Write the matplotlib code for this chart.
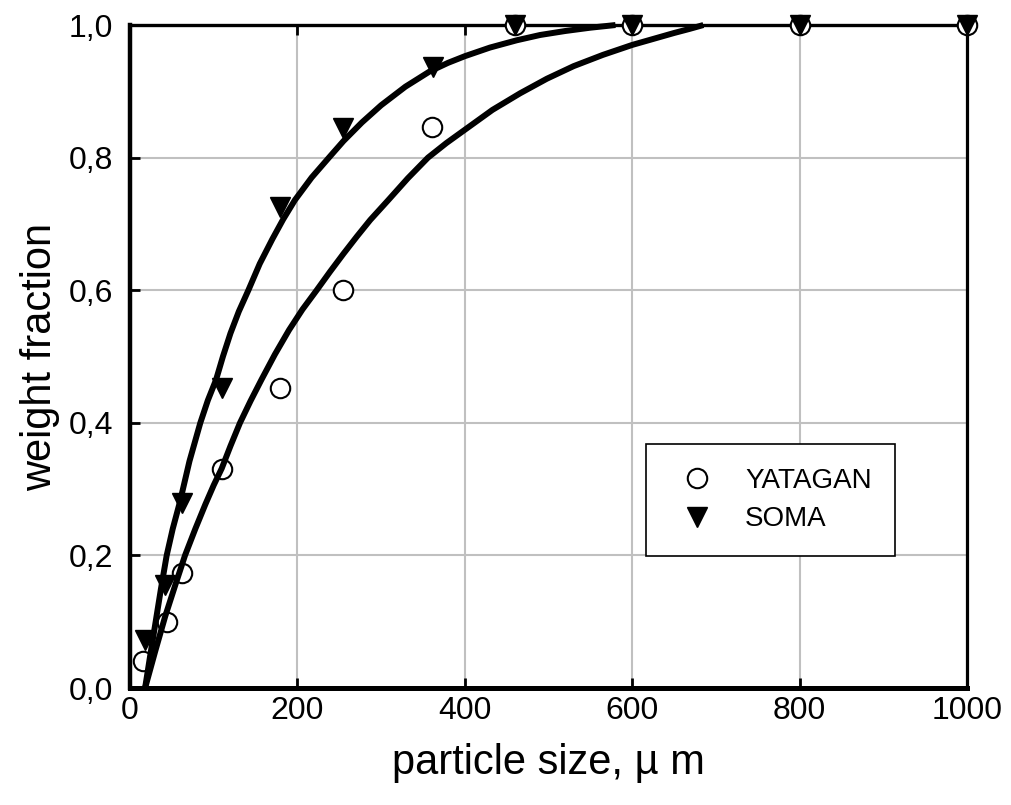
import matplotlib
matplotlib.use("Agg")
import matplotlib.pyplot as plt
from matplotlib.ticker import FuncFormatter

plt.rcParams['font.family'] = ['Liberation Sans', 'DejaVu Sans']

# measured data
yat_x = [16, 44, 62, 110, 179, 255, 361, 460, 600, 800, 1000]
yat_y = [0.041, 0.099, 0.173, 0.331, 0.452, 0.600, 0.846, 1.0, 1.0, 1.0, 1.0]
soma_x = [18, 42, 62, 110, 179, 255, 362, 460, 600, 800, 1000]
soma_y = [0.072, 0.155, 0.279, 0.453, 0.726, 0.844, 0.937, 1.0, 1.0, 1.0, 1.0]

# fitted curves
yat_fit_x = [18, 30, 42, 54, 65.7, 78, 90, 100, 109.5, 120, 131.4, 144, 157, 173, 190, 206, 223, 239,
             255, 271, 287, 308.6, 332, 356, 378, 400, 433, 466, 498, 530, 565, 600, 625, 650, 668, 685]
yat_fit_y = [0.0, 0.055, 0.108, 0.155, 0.2, 0.24, 0.277, 0.306, 0.331, 0.365, 0.4, 0.433, 0.465, 0.503,
             0.54, 0.571, 0.6, 0.628, 0.655, 0.681, 0.706, 0.736, 0.769, 0.8, 0.822, 0.842, 0.872, 0.897,
             0.919, 0.938, 0.955, 0.970, 0.979, 0.988, 0.994, 1.0]
soma_fit_x = [18, 24, 30, 37, 43.8, 51, 59.7, 71, 84, 93, 102.8, 111, 120, 130, 141.4, 155, 170, 183,
              197, 217, 239, 255, 277, 300, 329, 358, 380, 400, 430, 462, 490, 520, 550, 580]
soma_fit_y = [0.0, 0.048, 0.095, 0.15, 0.2, 0.24, 0.281, 0.342, 0.4, 0.434, 0.465, 0.5, 0.535, 0.568,
              0.6, 0.64, 0.677, 0.707, 0.736, 0.77, 0.802, 0.825, 0.853, 0.879, 0.907, 0.930, 0.943, 0.953,
              0.966, 0.977, 0.985, 0.991, 0.996, 1.0]

x_ticks = [0, 200, 400, 600, 800, 1000]
y_ticks = [0.0, 0.2, 0.4, 0.6, 0.8, 1.0]

fig = plt.figure(figsize=(10.11, 8.05), dpi=100)
ax = fig.add_axes([0.1286, 0.1453, 0.8279, 0.8236])

ax.set_xlim(0, 1000)
ax.set_ylim(0, 1.0)
ax.set_xticks(x_ticks)
ax.set_yticks(y_ticks)
ax.yaxis.set_major_formatter(FuncFormatter(lambda v, p: f"{v:.1f}".replace('.', ',')))
ax.grid(True, color='#c0c0c0', linewidth=1.5, zorder=0)
ax.set_axisbelow(True)

ax.tick_params(direction='in', length=7, width=2, labelsize=23, top=True, right=False)
ax.tick_params(axis='x', pad=6)
ax.tick_params(axis='y', pad=12)

for side, lw in [('left', 3.2), ('bottom', 3.6), ('top', 2.4), ('right', 2.3)]:
    ax.spines[side].set_linewidth(lw)
    ax.spines[side].set_color('black')

ax.plot(yat_fit_x, yat_fit_y, color='black', linewidth=4.3, zorder=5, solid_capstyle='butt',
        solid_joinstyle='round', clip_on=False)
ax.plot(soma_fit_x, soma_fit_y, color='black', linewidth=4.3, zorder=5, solid_capstyle='butt',
        solid_joinstyle='round', clip_on=False)

ax.plot(yat_x, yat_y, linestyle='none', marker='o', markersize=14, markerfacecolor='white',
        markeredgecolor='black', markeredgewidth=1.5, label='YATAGAN', zorder=3, clip_on=False)
ax.plot(soma_x, soma_y, linestyle='none', marker='v', markersize=15, markerfacecolor='black',
        markeredgecolor='black', label='SOMA', zorder=4, clip_on=False)

ax.set_xlabel('particle size, µ m', fontsize=30, labelpad=12)
ax.set_ylabel('weight fraction', fontsize=30, labelpad=6)

leg = ax.legend(loc='lower left', bbox_to_anchor=(0.6165, 0.199), fontsize=20, frameon=True,
                fancybox=False, edgecolor='black', framealpha=1, borderpad=0.85,
                handlelength=2.0, handletextpad=0.72, labelspacing=0.45, borderaxespad=0)
leg.get_frame().set_linewidth(1.2)
leg.set_zorder(10)

fig.savefig('out.png', dpi=100)
